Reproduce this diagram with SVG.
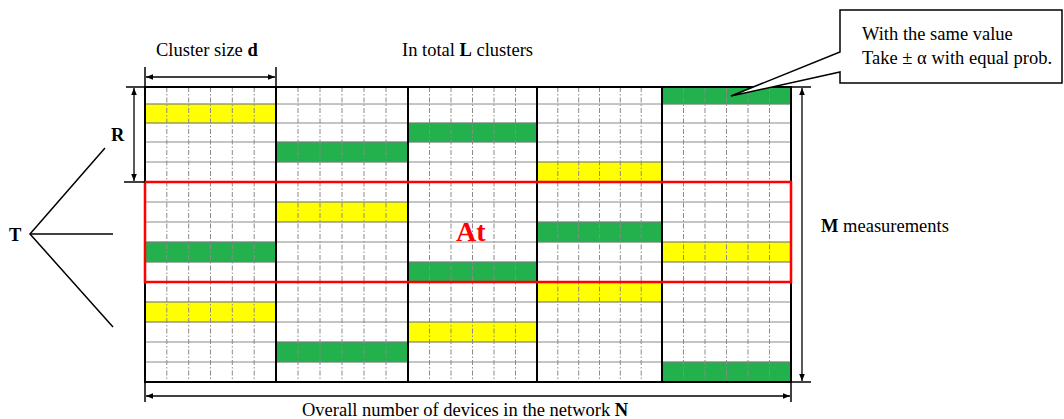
<svg xmlns="http://www.w3.org/2000/svg" width="1064" height="419" viewBox="0 0 1064 419">
<defs>
<marker id="ah" viewBox="0 0 10 10" refX="10" refY="5" markerWidth="7" markerHeight="7" markerUnits="userSpaceOnUse" orient="auto-start-reverse">
<path d="M0,1 L10,5 L0,9 z" fill="#000"/>
</marker>
</defs>
<style>
text{font-family:"Liberation Serif","Times New Roman",serif;fill:#000}
.lbl{font-size:18.5px}
.b{font-weight:bold}
.row{stroke:#8a8a8a;stroke-width:1}
.sub{stroke:#8a8a8a;stroke-width:1;stroke-dasharray:5 2 1.5 2}
.clu{stroke:#000;stroke-width:2}
.y{fill:#FFFF00;stroke:#8a8a00;stroke-width:0.6}
.g{fill:#22B14C;stroke:#1a6e33;stroke-width:0.6}
.ln{stroke:#000;stroke-width:1.5;fill:none}
.arr{stroke:#000;stroke-width:1.3;fill:none;marker-start:url(#ah);marker-end:url(#ah)}
</style>
<rect width="1064" height="419" fill="#fff"/>

<g id="grid">
  <g id="cells">
    <rect class="y" x="145" y="104" width="131" height="19"/>
    <rect class="g" x="145" y="242" width="131" height="20"/>
    <rect class="y" x="145" y="302" width="131" height="20"/>
    <rect class="g" x="276" y="142" width="132" height="20"/>
    <rect class="y" x="276" y="202" width="132" height="20"/>
    <rect class="g" x="276" y="342" width="132" height="20"/>
    <rect class="g" x="408" y="123" width="129" height="19"/>
    <rect class="g" x="408" y="262" width="129" height="20"/>
    <rect class="y" x="408" y="322" width="129" height="20"/>
    <rect class="y" x="537" y="162" width="125" height="20"/>
    <rect class="g" x="537" y="222" width="125" height="20"/>
    <rect class="y" x="537" y="282" width="125" height="20"/>
    <rect class="g" x="662" y="87" width="129" height="17"/>
    <rect class="y" x="662" y="242" width="129" height="20"/>
    <rect class="g" x="662" y="362" width="129" height="20"/>
  </g>
  <g id="rows">
    <line class="row" x1="145" y1="104" x2="791" y2="104"/>
    <line class="row" x1="145" y1="123" x2="791" y2="123"/>
    <line class="row" x1="145" y1="142" x2="791" y2="142"/>
    <line class="row" x1="145" y1="162" x2="791" y2="162"/>
    <line class="row" x1="145" y1="202" x2="791" y2="202"/>
    <line class="row" x1="145" y1="222" x2="791" y2="222"/>
    <line class="row" x1="145" y1="242" x2="791" y2="242"/>
    <line class="row" x1="145" y1="262" x2="791" y2="262"/>
    <line class="row" x1="145" y1="302" x2="791" y2="302"/>
    <line class="row" x1="145" y1="322" x2="791" y2="322"/>
    <line class="row" x1="145" y1="342" x2="791" y2="342"/>
    <line class="row" x1="145" y1="362" x2="791" y2="362"/>
    <line class="row" x1="145" y1="182" x2="791" y2="182"/>
    <line class="row" x1="145" y1="282" x2="791" y2="282"/>
  </g>
  <g id="subcols">
    <line class="sub" x1="166.8" y1="87" x2="166.8" y2="382"/>
    <line class="sub" x1="188.7" y1="87" x2="188.7" y2="382"/>
    <line class="sub" x1="210.5" y1="87" x2="210.5" y2="382"/>
    <line class="sub" x1="232.3" y1="87" x2="232.3" y2="382"/>
    <line class="sub" x1="254.2" y1="87" x2="254.2" y2="382"/>
    <line class="sub" x1="298" y1="87" x2="298" y2="382"/>
    <line class="sub" x1="320" y1="87" x2="320" y2="382"/>
    <line class="sub" x1="342" y1="87" x2="342" y2="382"/>
    <line class="sub" x1="364" y1="87" x2="364" y2="382"/>
    <line class="sub" x1="386" y1="87" x2="386" y2="382"/>
    <line class="sub" x1="429.5" y1="87" x2="429.5" y2="382"/>
    <line class="sub" x1="451" y1="87" x2="451" y2="382"/>
    <line class="sub" x1="472.5" y1="87" x2="472.5" y2="382"/>
    <line class="sub" x1="494" y1="87" x2="494" y2="382"/>
    <line class="sub" x1="515.5" y1="87" x2="515.5" y2="382"/>
    <line class="sub" x1="557.8" y1="87" x2="557.8" y2="382"/>
    <line class="sub" x1="578.7" y1="87" x2="578.7" y2="382"/>
    <line class="sub" x1="599.5" y1="87" x2="599.5" y2="382"/>
    <line class="sub" x1="620.3" y1="87" x2="620.3" y2="382"/>
    <line class="sub" x1="641.2" y1="87" x2="641.2" y2="382"/>
    <line class="sub" x1="683.5" y1="87" x2="683.5" y2="382"/>
    <line class="sub" x1="705" y1="87" x2="705" y2="382"/>
    <line class="sub" x1="726.5" y1="87" x2="726.5" y2="382"/>
    <line class="sub" x1="748" y1="87" x2="748" y2="382"/>
    <line class="sub" x1="769.5" y1="87" x2="769.5" y2="382"/>
  </g>
  <g id="clusters">
    <line class="clu" x1="276" y1="87" x2="276" y2="382"/>
    <line class="clu" x1="408" y1="87" x2="408" y2="382"/>
    <line class="clu" x1="537" y1="87" x2="537" y2="382"/>
    <line class="clu" x1="662" y1="87" x2="662" y2="382"/>
    <rect x="145" y="87" width="646" height="295" fill="none" stroke="#000" stroke-width="2"/>
  </g>
</g>

<g id="window-At">
  <rect x="145" y="182" width="646" height="100" fill="none" stroke="#FF0000" stroke-width="2.5"/>
  <text x="456" y="241" font-size="28" font-weight="bold" style="fill:#FF0000">At</text>
</g>

<g id="callout">
  <path d="M840,10 L1062,10 L1062,83 L840,83 L840,72 L731,96 L840,52 Z" fill="#fff" stroke="#000" stroke-width="1.5"/>
  <text class="lbl" x="862" y="40">With the same value</text>
  <text class="lbl" x="862" y="64">Take ± α with equal prob.</text>
</g>

<g id="labels">
  <text class="lbl" x="156" y="56">Cluster size <tspan class="b">d</tspan></text>
  <text class="lbl" x="402" y="56">In total <tspan class="b">L</tspan> clusters</text>
  <text class="lbl b" x="111" y="141">R</text>
  <text class="lbl b" x="9" y="241">T</text>
  <text class="lbl" x="821" y="232"><tspan class="b">M</tspan> measurements</text>
  <text class="lbl" x="302" y="416">Overall number of devices in the network <tspan class="b">N</tspan></text>
</g>

<g id="connectors">
  <line class="ln" x1="145" y1="67" x2="145" y2="87"/>
  <line class="ln" x1="276" y1="67" x2="276" y2="87"/>
  <line class="arr" x1="146" y1="77" x2="275" y2="77"/>
  <line class="ln" x1="126" y1="87" x2="145" y2="87"/>
  <line class="ln" x1="124" y1="182" x2="145" y2="182"/>
  <line class="arr" x1="134" y1="88" x2="134" y2="181"/>
  <line class="ln" x1="791" y1="87" x2="811" y2="87"/>
  <line class="ln" x1="791" y1="382" x2="811" y2="382"/>
  <line class="arr" x1="802" y1="88" x2="802" y2="381"/>
  <line class="ln" x1="145" y1="382" x2="145" y2="402"/>
  <line class="ln" x1="791" y1="382" x2="791" y2="402"/>
  <line class="arr" x1="146" y1="396" x2="790" y2="396"/>
  <polyline class="ln" points="105,148 30,234 113,327"/>
  <line class="ln" x1="30" y1="234" x2="113" y2="234"/>
</g>
</svg>
